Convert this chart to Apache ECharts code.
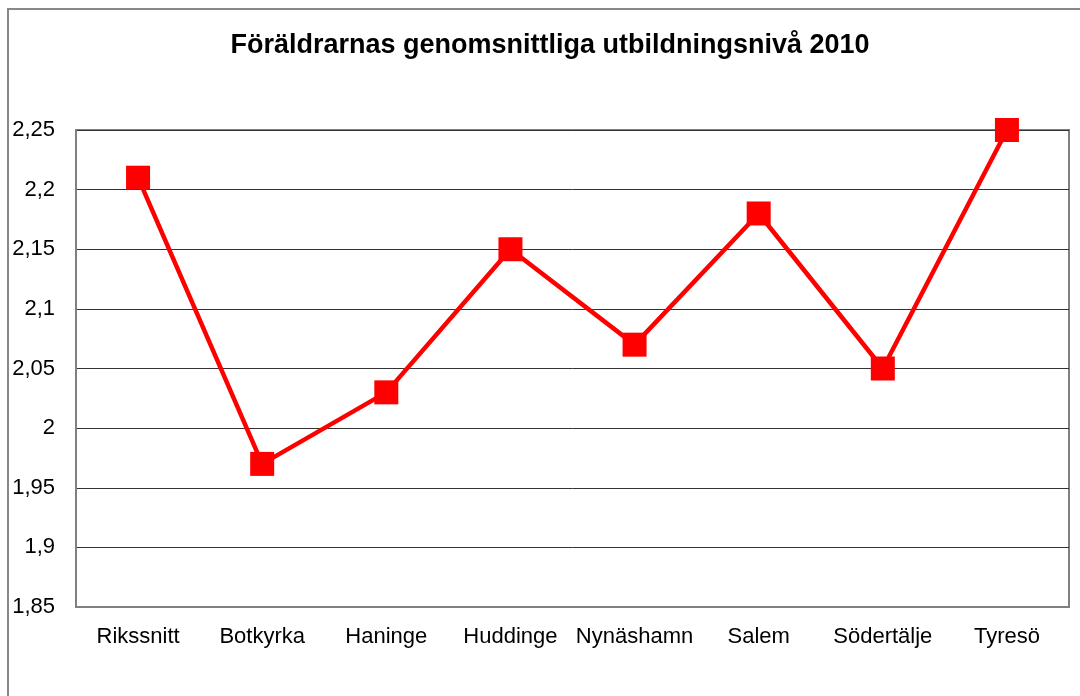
<!DOCTYPE html>
<html>
<head>
<meta charset="utf-8">
<script src="https://cdn.jsdelivr.net/npm/echarts@6/dist/echarts.min.js"></script>
<style>
  html, body { margin: 0; padding: 0; background: #fff; }
  #chart { width: 1080px; height: 696px; }
</style>
</head>
<body>
<div id="chart"></div>
<script>
var categories = ['Rikssnitt', 'Botkyrka', 'Haninge', 'Huddinge', 'Nynäshamn', 'Salem', 'Södertälje', 'Tyresö'];
var values = [2.21, 1.97, 2.03, 2.15, 2.07, 2.18, 2.05, 2.25];
var yMin = 1.85;
var yMax = 2.25;
var yStep = 0.05;

var font = 'Arial, "Liberation Sans", sans-serif';

var option = {
    animation: false,
    backgroundColor: '#fff',
    title: {
        text: 'Föräldrarnas genomsnittliga utbildningsnivå 2010',
        left: 545,
        top: 27,
        textAlign: 'center',
        textStyle: {
            fontFamily: font,
            fontSize: 27,
            fontWeight: 'bold',
            color: '#000'
        }
    },
    graphic: [
        {
            type: 'rect',
            shape: { x: 8, y: 9, width: 1090, height: 700 },
            style: { fill: 'none', stroke: '#888', lineWidth: 2 },
            silent: true
        }
    ],
    grid: {
        left: 76,
        right: 11,
        top: 130,
        bottom: 89,
        show: true,
        borderColor: '#808080',
        borderWidth: 2,
        backgroundColor: 'transparent'
    },
    xAxis: {
        type: 'category',
        data: categories,
        boundaryGap: true,
        axisLine: { show: true, lineStyle: { color: '#808080', width: 2 } },
        axisTick: { show: false },
        axisLabel: {
            interval: 0,
            margin: 19,
            fontFamily: font,
            fontSize: 22,
            color: '#000'
        },
        splitLine: { show: false }
    },
    yAxis: {
        type: 'value',
        min: yMin,
        max: yMax,
        interval: yStep,
        axisLine: { show: true, lineStyle: { color: '#808080', width: 2 } },
        axisTick: { show: false },
        axisLabel: {
            margin: 21,
            fontFamily: font,
            fontSize: 22,
            color: '#000',
            formatter: function (v) {
                return String(parseFloat(v.toFixed(2))).replace('.', ',');
            }
        },
        splitLine: { show: true, lineStyle: { color: '#333', width: 1 } }
    },
    series: [
        {
            type: 'line',
            data: values,
            symbol: 'rect',
            symbolSize: 24,
            lineStyle: { color: '#ff0000', width: 4.5 },
            itemStyle: { color: '#ff0000', borderWidth: 0 },
            emphasis: { disabled: true }
        }
    ]
};

var myChart = echarts.init(document.getElementById('chart'));
myChart.setOption(option);
</script>
</body>
</html>
